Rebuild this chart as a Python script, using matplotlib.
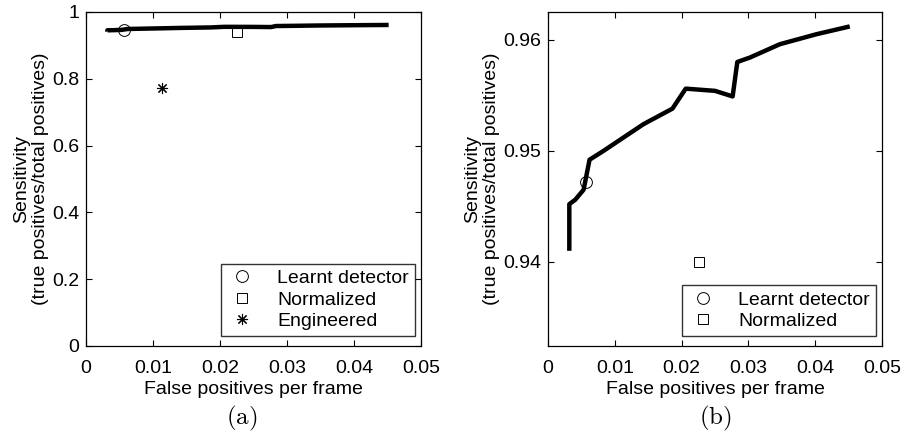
import matplotlib
matplotlib.use("Agg")
import matplotlib.pyplot as plt

# ROC-like curve of the learnt detector
fp_curve = [0.00319, 0.00319, 0.00408, 0.00533, 0.00622, 0.00832, 0.0113, 0.01429,
            0.01863, 0.02062, 0.0250, 0.02764, 0.02834, 0.03023, 0.03471, 0.04019, 0.04517]
sens_curve = [0.9410, 0.9452, 0.9456, 0.9465, 0.9492, 0.9500, 0.9512, 0.9524,
              0.9538, 0.9556, 0.9554, 0.9549, 0.9580, 0.9584, 0.9596, 0.9605, 0.9612]

# single operating points
learnt_fp, learnt_sens = 0.00563, 0.9472
norm_fp, norm_sens = 0.02257, 0.9400
eng_fp, eng_sens = 0.01134, 0.7735

xticks = [0, 0.01, 0.02, 0.03, 0.04, 0.05]
xticklabels = ["0", "0.01", "0.02", "0.03", "0.04", "0.05"]
yticks_a = [0, 0.2, 0.4, 0.6, 0.8, 1.0]
yticklabels_a = ["0", "0.2", "0.4", "0.6", "0.8", "1"]
yticks_b = [0.94, 0.95, 0.96]
yticklabels_b = ["0.94", "0.95", "0.96"]

plt.rcParams['font.family'] = ['Liberation Sans', 'DejaVu Sans']
plt.rcParams['mathtext.fontset'] = 'cm'
FS = 14

W, H = 909, 437
fig = plt.figure(figsize=(W / 100, H / 100), dpi=100)


def px_axes(left, top, right, bottom):
    return fig.add_axes([left / W, 1 - bottom / H, (right - left) / W, (bottom - top) / H])


def style(ax):
    ax.tick_params(direction='in', top=True, right=True, labelsize=FS, length=4, width=0.8)
    ax.tick_params(axis='x', pad=10)
    ax.tick_params(axis='y', pad=5)
    for s in ax.spines.values():
        s.set_linewidth(0.9)
    ax.set_xlim(0, 0.05)
    ax.set_xticks(xticks)
    ax.set_xticklabels(xticklabels)
    ax.set_xlabel("False positives per frame", fontsize=FS, labelpad=3)
    ax.set_ylabel("Sensitivity\n(true positives/total positives)", fontsize=FS,
                  linespacing=1.15, labelpad=2)


def legend(ax, labels):
    lg = ax.legend(ax.lines[1:], labels, loc='lower right',
                   bbox_to_anchor=(0.982, 0.03), fontsize=FS, frameon=True, fancybox=False,
                   edgecolor='black', borderaxespad=0, handlelength=1.6, handletextpad=1.0,
                   labelspacing=0.2, borderpad=0.3)
    lg.get_frame().set_linewidth(1.0)


mk = dict(linestyle='none', markerfacecolor='none', markeredgecolor='black', markeredgewidth=0.7)

# panel (a)
ax1 = px_axes(86, 12, 421, 346)
ax1.plot(fp_curve, sens_curve, color='black', linewidth=3.2, solid_capstyle='butt')
ax1.plot([learnt_fp], [learnt_sens], marker='o', markersize=8.5, **mk)
ax1.plot([norm_fp], [norm_sens], marker='s', markersize=7.5, **mk)
ax1.plot([eng_fp], [eng_sens], marker=(8, 2, 0), markersize=8, color='black',
         markeredgewidth=0.8, linestyle='none')
ax1.set_ylim(0, 1)
ax1.set_yticks(yticks_a)
ax1.set_yticklabels(yticklabels_a)
style(ax1)
legend(ax1, ['Learnt detector', 'Normalized', 'Engineered'])

# panel (b)
ax2 = px_axes(548, 12, 882, 346)
ax2.plot(fp_curve, sens_curve, color='black', linewidth=3.2, solid_capstyle='butt')
ax2.plot([learnt_fp], [learnt_sens], marker='o', markersize=8.5, **mk)
ax2.plot([norm_fp], [norm_sens], marker='s', markersize=7.5, **mk)
ax2.set_ylim(0.93243, 0.9625)
ax2.set_yticks(yticks_b)
ax2.set_yticklabels(yticklabels_b)
style(ax2)
legend(ax2, ['Learnt detector', 'Normalized'])

fig.text(242 / W, 1 - 418 / H, r'$\mathrm{(a)}$', ha='center', va='center', fontsize=18)
fig.text(715 / W, 1 - 418 / H, r'$\mathrm{(b)}$', ha='center', va='center', fontsize=18)

fig.savefig("out.png", dpi=100)
